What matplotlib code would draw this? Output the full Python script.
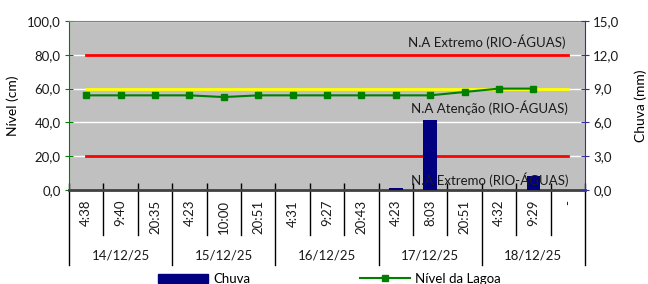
import numpy as np
import matplotlib
matplotlib.use("Agg")
import matplotlib.pyplot as plt
from matplotlib.lines import Line2D
from matplotlib.patches import Patch
import matplotlib.transforms as mtransforms

plt.rcParams['font.family'] = ['Lato', 'DejaVu Sans']

times = ['4:38', '9:40', '20:35', '4:23', '10:00', '20:51', '4:31', '9:27',
         '20:43', '4:23', '8:03', '20:51', '4:32', '9:29', '-']
dates = ['14/12/25', '15/12/25', '16/12/25', '17/12/25', '18/12/25']
per_date = 3
nivel = [56, 56, 56, 56, 55, 56, 56, 56, 56, 56, 56, 58, 60, 60, np.nan]
chuva = [0, 0, 0, 0, 0, 0, 0, 0, 0, 0.2, 6.2, 0, 0, 1.2, 0]
extremo_alto = 80.0
atencao = 60.0
extremo_baixo = 20.0
label_extremo = 'N.A Extremo (RIO-ÁGUAS)'
label_atencao = 'N.A Atenção (RIO-ÁGUAS)'

fs = 9.5
txt = '#1a1a1a'
fig = plt.figure(figsize=(6.48, 2.84), dpi=100)
ax = fig.add_axes([69/648, 1 - 190/284, (585-69)/648, (190-21)/284])
ax2 = ax.twinx()
ax2.patch.set_visible(False)

n = len(times)
x = np.arange(n)

ax.set_facecolor('#C0C0C0')
ax.set_xlim(-0.5, n - 0.5)
ax.set_ylim(0, 100)
ax.set_yticks(np.arange(0, 101, 20))
ax.set_yticklabels([f'{v:.1f}'.replace('.', ',') for v in np.arange(0, 101, 20)], fontsize=fs)
ax.grid(axis='y', color='white', lw=1)
ax.set_axisbelow(True)

# reference lines
for val, col in [(extremo_alto, '#FF0000'), (atencao, '#FFFF00'), (extremo_baixo, '#FF0000')]:
    ax.plot([x[0], x[-1]], [val, val], color=col, lw=2, zorder=2)

ax.plot(x, nivel, color='#008000', lw=1.5, marker='s', ms=5, zorder=3)

ax2.set_ylim(0, 15)
ax2.set_yticks(np.arange(0, 16, 3))
ax2.set_yticklabels([f'{v:.1f}'.replace('.', ',') for v in np.arange(0, 16, 3)], fontsize=fs)
bars = ax2.bar(x, chuva, width=0.4, color='#000080', zorder=2)

# annotations
tr = ax.transData
ax2.text(x[-1] - 0.08, extremo_alto + 7.6, label_extremo, transform=tr, ha='right', va='center', fontsize=fs, color=txt, zorder=5)
ax2.text(x[-1], atencao - 11.5, label_atencao, transform=tr, ha='right', va='center', fontsize=fs, color=txt, zorder=5)
ax2.text(x[-1] + 0.03, extremo_baixo - 14.1, label_extremo, transform=tr, ha='right', va='center', fontsize=fs, color=txt, zorder=5)

# spines
ax.spines['left'].set_color('#008000')
ax.spines['top'].set_color('#808080')
ax.spines['right'].set_visible(False)
ax.spines['bottom'].set_color('#404040')
ax.spines['bottom'].set_linewidth(2)
ax2.spines['right'].set_color('#3030A0')
ax2.spines['left'].set_visible(False)
ax2.spines['top'].set_visible(False)
ax2.spines['bottom'].set_visible(False)

ax.tick_params(axis='y', direction='inout', length=6, color='#008000', pad=3, labelcolor=txt)
ax2.tick_params(axis='y', direction='inout', length=6, color='#3030A0', pad=3, labelcolor=txt)

# x axis: category boundaries
bounds = np.arange(n + 1) - 0.5
ax.set_xticks(bounds)
ax.set_xticklabels([])
ax.tick_params(axis='x', direction='in', length=5, color='black', width=1)

axh = 169.0
blend = mtransforms.blended_transform_factory(ax.transData, ax.transAxes)
for i, b in enumerate(bounds):
    is_date = (i % per_date == 0)
    y1 = -(75/axh) if is_date else -(45/axh)
    ax.plot([b, b], [0, y1], transform=blend, color='black', lw=1, clip_on=False)
for i, t in enumerate(times):
    ax.text(x[i], -10/axh, t, transform=blend, rotation=90, ha='center', va='top', fontsize=fs, color=txt)
for j, d in enumerate(dates):
    cx = j * per_date + (per_date - 1) / 2
    ax.text(cx, -66/axh, d, transform=blend, ha='center', va='center', fontsize=fs, color=txt)

ax.set_ylabel('Nível (cm)', fontsize=fs + 0.5, labelpad=6)
ax2.set_ylabel('Chuva (mm)', fontsize=fs + 0.5, rotation=90, labelpad=11)

handles = [Patch(color='#000080'),
           Line2D([], [], color='#008000', lw=1.5, marker='s', ms=5)]
fig.legend(handles, ['Chuva', 'Nível da Lagoa'], loc='center', bbox_to_anchor=(0.508, 0.018),
           ncol=2, frameon=False, fontsize=fs, handlelength=3.8, columnspacing=8.3, handletextpad=0.4,
           borderpad=0, borderaxespad=0)

fig.savefig('out.png', dpi=100)
